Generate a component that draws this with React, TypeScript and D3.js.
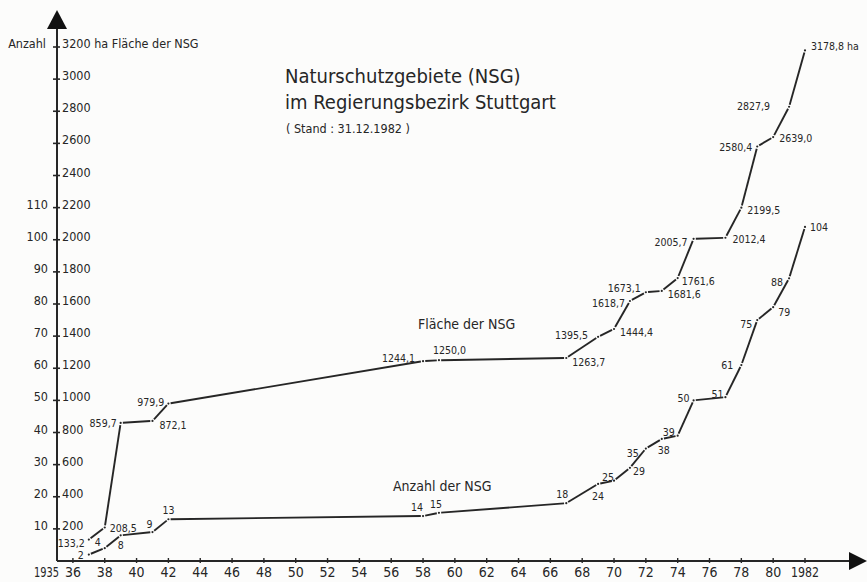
import React from "react";
import * as d3 from "d3";

const W = 867;
const H = 582;

// Fläche der NSG in ha, per year
const areaYears = [1937, 1938, 1939, 1941, 1942, 1958, 1959, 1967, 1969, 1970, 1971, 1972, 1973, 1974, 1975, 1977, 1978, 1979, 1980, 1981, 1982];
const areaValues = [133.2, 208.5, 859.7, 872.1, 979.9, 1244.1, 1250.0, 1263.7, 1395.5, 1444.4, 1618.7, 1673.1, 1681.6, 1761.6, 2005.7, 2012.4, 2199.5, 2580.4, 2639.0, 2827.9, 3178.8];

// Anzahl der NSG, per year
const countYears = [1937, 1938, 1939, 1941, 1942, 1958, 1959, 1967, 1969, 1970, 1971, 1972, 1973, 1974, 1975, 1977, 1978, 1979, 1980, 1981, 1982];
const countValues = [2, 4, 8, 9, 13, 14, 15, 18, 24, 25, 29, 35, 38, 39, 50, 51, 61, 75, 79, 88, 104];

// axis ticks
const areaTicks = [200, 400, 600, 800, 1000, 1200, 1400, 1600, 1800, 2000, 2200, 2400, 2600, 2800, 3000, 3200];
const countTicks = [10, 20, 30, 40, 50, 60, 70, 80, 90, 100, 110];
const yearTicks = [1936, 1938, 1940, 1942, 1944, 1946, 1948, 1950, 1952, 1954, 1956, 1958, 1960, 1962, 1964, 1966, 1968, 1970, 1972, 1974, 1976, 1978, 1980, 1982];

const titleLines = ["Naturschutzgebiete (NSG)", "im Regierungsbezirk Stuttgart"];
const standText = "( Stand : 31.12.1982 )";

// where each value label sits relative to its point: [dx, dy, anchor]
const areaLabelPlace: [number, number, string][] = [
  [-4, 7, "end"], [5, 4, "start"], [-4, 4, "end"], [7, 8, "start"], [-4, 2, "end"],
  [-8, 1, "end"], [-6, -6, "start"], [6, 8, "start"], [-10, 2, "end"], [6, 7, "start"],
  [-5, 6, "end"], [-5, 0, "end"], [6, 7, "start"], [4, 7, "start"], [-6, 7, "end"],
  [7, 5, "start"], [6, 6, "start"], [-5, 4, "end"], [6, 5, "start"], [-19, 3, "end"], [6, 0, "start"],
];
const countLabelPlace: [number, number, string][] = [
  [-5, 4, "end"], [-4, -2, "end"], [0, 14, "middle"], [-3, -4, "middle"], [0, -5, "middle"],
  [-6, -5, "middle"], [-3, -5, "middle"], [-4, -5, "middle"], [0, 16, "middle"], [-6, 0, "middle"],
  [3, 7, "start"], [-7, 8, "end"], [2, 15, "middle"], [-9, 0, "middle"], [-4, 2, "end"],
  [-8, 1, "middle"], [-8, 4, "end"], [-5, 8, "end"], [5, 9, "start"], [-6, 8, "end"], [5, 4, "start"],
];

const FONT = "'DejaVu Sans Condensed', 'DejaVu Sans', sans-serif";
const INK = "#262626";

const x = d3.scaleLinear().domain([1935, 1982]).range([57, 805]);
const yArea = d3.scaleLinear().domain([0, 3200]).range([561, 47]);
const yCount = d3.scaleLinear().domain([0, 160]).range([561, 47]);

const fmt = (v: number) => v.toFixed(1).replace(".", ",");

// broken polyline: each segment stops a little short of the points
const Series = ({ pts }: { pts: [number, number][] }) => {
  const gap = 2.2;
  return (
    <g>
      {d3.pairs(pts).map(([a, b], i) => {
        const dx = b[0] - a[0], dy = b[1] - a[1];
        const len = Math.hypot(dx, dy);
        const ux = dx / len, uy = dy / len;
        return (
          <line key={i} x1={a[0] + ux * gap} y1={a[1] + uy * gap} x2={b[0] - ux * gap} y2={b[1] - uy * gap}
            stroke={INK} strokeWidth={1.9} />
        );
      })}
      {pts.map((p, i) => <circle key={i} cx={p[0]} cy={p[1]} r={1.1} fill={INK} />)}
    </g>
  );
};

export default function App() {
  const areaPts: [number, number][] = areaYears.map((yr, i) => [x(yr), yArea(areaValues[i])]);
  const countPts: [number, number][] = countYears.map((yr, i) => [x(yr), yCount(countValues[i])]);
  const axisY = yArea(0);
  const axisX = x(1935);

  return (
    <svg width={W} height={H} style={{ position: "absolute", left: 0, top: 0, background: "#fcfcfb" }} fontFamily={FONT}>
      {/* y axis with arrow */}
      <line x1={axisX} y1={28} x2={axisX} y2={axisY} stroke={INK} strokeWidth={2} />
      <path d={`M${axisX},10 L${axisX - 10},29 L${axisX + 10},29 Z`} fill="#111" />
      {/* x axis with arrow */}
      <line x1={axisX} y1={axisY} x2={852} y2={axisY} stroke={INK} strokeWidth={2} />
      <path d={`M867,${axisY} L849,${axisY - 9} L849,${axisY + 9} Z`} fill="#111" />

      {areaTicks.map(t => (
        <g key={t}>
          <line x1={axisX - 4} x2={axisX + 3} y1={yArea(t)} y2={yArea(t)} stroke={INK} strokeWidth={1.6} />
          <text x={axisX + 5} y={yArea(t) + 1} fontSize={12.5} fill={INK}>
            {t === 3200 ? "3200 ha Fläche der NSG" : t}
          </text>
        </g>
      ))}
      {countTicks.map(t => (
        <text key={t} x={axisX - 9} y={yCount(t) + 1} fontSize={12.5} fill={INK} textAnchor="end">{t}</text>
      ))}
      <text x={axisX - 11} y={yArea(3200) + 1} fontSize={12.5} fill={INK} textAnchor="end">Anzahl</text>

      {yearTicks.map(t => (
        <g key={t}>
          <line x1={x(t)} x2={x(t)} y1={axisY - 3} y2={axisY + 2} stroke={INK} strokeWidth={1.4} />
          <text x={x(t)} y={577} fontSize={14} fill={INK} textAnchor="middle"
            textLength={t === 1982 ? 28 : undefined} lengthAdjust="spacingAndGlyphs">
            {t === 1982 ? "1982" : String(t).slice(2)}
          </text>
        </g>
      ))}
      <text x={59} y={577} fontSize={14} fill={INK} textAnchor="end" textLength={25} lengthAdjust="spacingAndGlyphs">1935</text>

      <Series pts={areaPts} />
      <Series pts={countPts} />

      {areaPts.map((p, i) => {
        const [dx, dy, anchor] = areaLabelPlace[i];
        const last = i === areaPts.length - 1;
        return (
          <text key={i} x={p[0] + dx} y={p[1] + dy} fontSize={10.5} fill={INK} textAnchor={anchor}>
            {fmt(areaValues[i]) + (last ? " ha" : "")}
          </text>
        );
      })}
      {countPts.map((p, i) => {
        const [dx, dy, anchor] = countLabelPlace[i];
        return (
          <text key={i} x={p[0] + dx} y={p[1] + dy} fontSize={10.5} fill={INK} textAnchor={anchor}>
            {countValues[i]}
          </text>
        );
      })}

      <text x={418} y={329} fontSize={14} fill={INK}>Fläche der NSG</text>
      <text x={393} y={491} fontSize={14} fill={INK}>Anzahl der NSG</text>

      <text x={285} y={83} fontSize={20} fill={INK}>{titleLines[0]}</text>
      <text x={285} y={109} fontSize={20} fill={INK}>{titleLines[1]}</text>
      <text x={286} y={133} fontSize={12.5} fill={INK}>{standText}</text>
    </svg>
  );
}
